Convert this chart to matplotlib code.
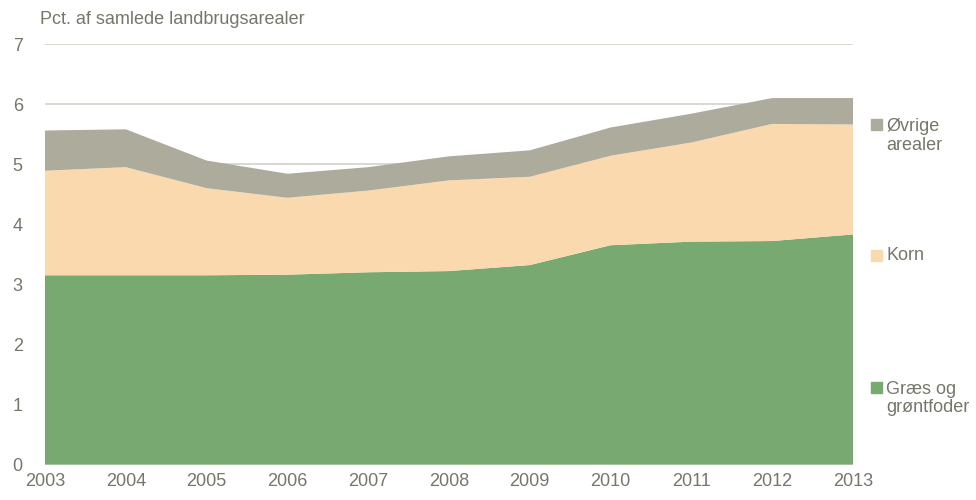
import matplotlib
matplotlib.use("Agg")
import matplotlib.pyplot as plt
from matplotlib.patches import Rectangle
from matplotlib import font_manager

years = [2003, 2004, 2005, 2006, 2007, 2008, 2009, 2010, 2011, 2012, 2013]
graes = [3.15, 3.15, 3.15, 3.16, 3.20, 3.22, 3.32, 3.65, 3.71, 3.72, 3.83]
korn = [1.74, 1.80, 1.45, 1.28, 1.36, 1.51, 1.47, 1.49, 1.65, 1.95, 1.83]
oevrige = [0.67, 0.63, 0.46, 0.40, 0.39, 0.40, 0.44, 0.47, 0.48, 0.43, 0.44]
series_labels = ["Græs og\ngrøntfoder", "Korn", "Øvrige\narealer"]
colors = ["#77A970", "#FBD9AF", "#ADAB9B"]
yticks = [0, 1, 2, 3, 4, 5, 6, 7]
title = "Pct. af samlede landbrugsarealer"

names = {f.name for f in font_manager.fontManager.ttflist}
fam = "Liberation Sans Narrow" if "Liberation Sans Narrow" in names else "Liberation Sans"
fs = 15 if fam == "Liberation Sans Narrow" else 13
plt.rcParams["font.family"] = [fam, "DejaVu Sans"]
txt = "#76766A"

fig = plt.figure(figsize=(9.76, 5.0), dpi=100)
ax = fig.add_axes([45 / 976, 1 - 464.5 / 500, (853 - 45) / 976, (464.5 - 44) / 500])

ax.stackplot(years, graes, korn, oevrige, colors=colors, linewidth=0, zorder=2)
ax.set_xlim(2003, 2013)
ax.set_ylim(0, 7)
ax.set_yticks(yticks)
ax.set_xticks(years)
ax.grid(axis="y", color="#D3D3CB", linewidth=1.2, zorder=1)
ax.set_axisbelow(True)
for s in ax.spines.values():
    s.set_visible(False)
ax.tick_params(axis="both", length=0, colors=txt, labelsize=fs)
ax.tick_params(axis="y", pad=16)
ax.tick_params(axis="x", pad=6)

fig.text(40 / 976, 1 - 20 / 500, title, ha="left", va="center", color=txt, fontsize=fs)

# legend
leg_y = [(387 + 410) / 2, 255, (124 + 148) / 2]
for lab, col, yc in zip(series_labels, colors, leg_y):
    nl = lab.count("\n")
    sq_y = yc - nl * 11.5
    fig.patches.append(Rectangle((871 / 976, 1 - (sq_y + 5.5) / 500), 11 / 976, 11 / 500,
                                 transform=fig.transFigure, color=col))
    fig.text(886 / 976, 1 - yc / 500, lab, ha="left", va="center", color=txt,
             fontsize=fs, linespacing=1.15)

fig.savefig("out.png", dpi=100)
